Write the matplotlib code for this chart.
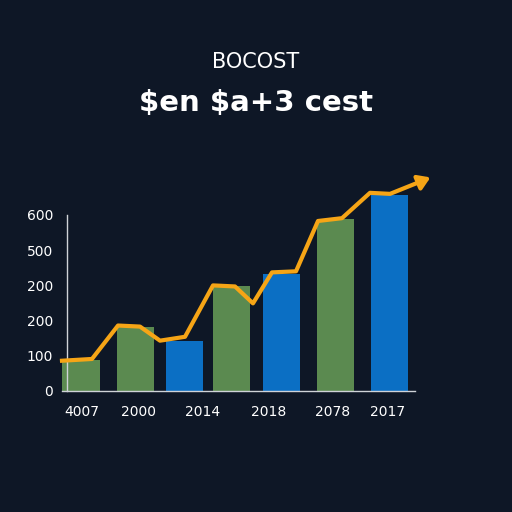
import matplotlib.pyplot as plt
import numpy as np

# data (x positions in pixel-like units)
bar_x = [81, 135, 184, 231, 281, 335, 389]
bar_h = [0.89, 1.83, 1.43, 2.97, 3.31, 4.89, 5.57]
bar_c = ['#5b8a50', '#5b8a50', '#0b6fc4', '#5b8a50', '#0b6fc4', '#5b8a50', '#0b6fc4']
line_x = [62, 92, 118, 140, 160, 185, 213, 235, 253, 272, 296, 318, 342, 370, 390, 425]
line_y = [0.86, 0.91, 1.86, 1.83, 1.43, 1.54, 3.0, 2.97, 2.49, 3.37, 3.4, 4.83, 4.91, 5.63, 5.6, 6.0]
ytick_labels = ['0', '100', '200', '200', '500', '600']
xtick_x = [82, 138, 203, 269, 333, 388]
xtick_labels = ['4007', '2000', '2014', '2018', '2078', '2017']

bg = '#0e1726'
fig = plt.figure(figsize=(5.12, 5.12), dpi=100, facecolor=bg)
ax = fig.add_axes([62/512, 1-391/512, 353/512, 176/512], facecolor=bg)

ax.bar(bar_x, bar_h, width=37, color=bar_c, clip_on=False, zorder=2)
ax.plot(line_x, line_y, color='#f6a516', lw=3, clip_on=False, zorder=3)
ax.annotate('', xy=(433, 6.1), xytext=(415, 5.88),
            arrowprops=dict(arrowstyle='-|>,head_width=0.45,head_length=0.7',
                            color='#f6a516', lw=3), annotation_clip=False, zorder=4)

ax.set_xlim(62, 415)
ax.set_ylim(0, 5)
ax.set_yticks(range(6))
ax.set_yticklabels(ytick_labels)
ax.set_xticks(xtick_x)
ax.set_xticklabels(xtick_labels)
ax.tick_params(colors='white', labelsize=10, length=0, pad=10)
for s in ['top', 'right']:
    ax.spines[s].set_visible(False)
for s in ['left', 'bottom']:
    ax.spines[s].set_color('#cfd3d8')
    ax.spines[s].set_linewidth(1)
ax.spines['left'].set_position(('data', 67))

fig.text(0.5, 1-62/512, 'BOCOST', color='white', fontsize=15, ha='center', va='center',
         parse_math=False)
fig.text(0.5, 1-103/512, '$en $a+3 cest', color='white', fontsize=21,
         fontweight='bold', ha='center', va='center', parse_math=False)

fig.savefig('out.png', dpi=100, facecolor=bg)
